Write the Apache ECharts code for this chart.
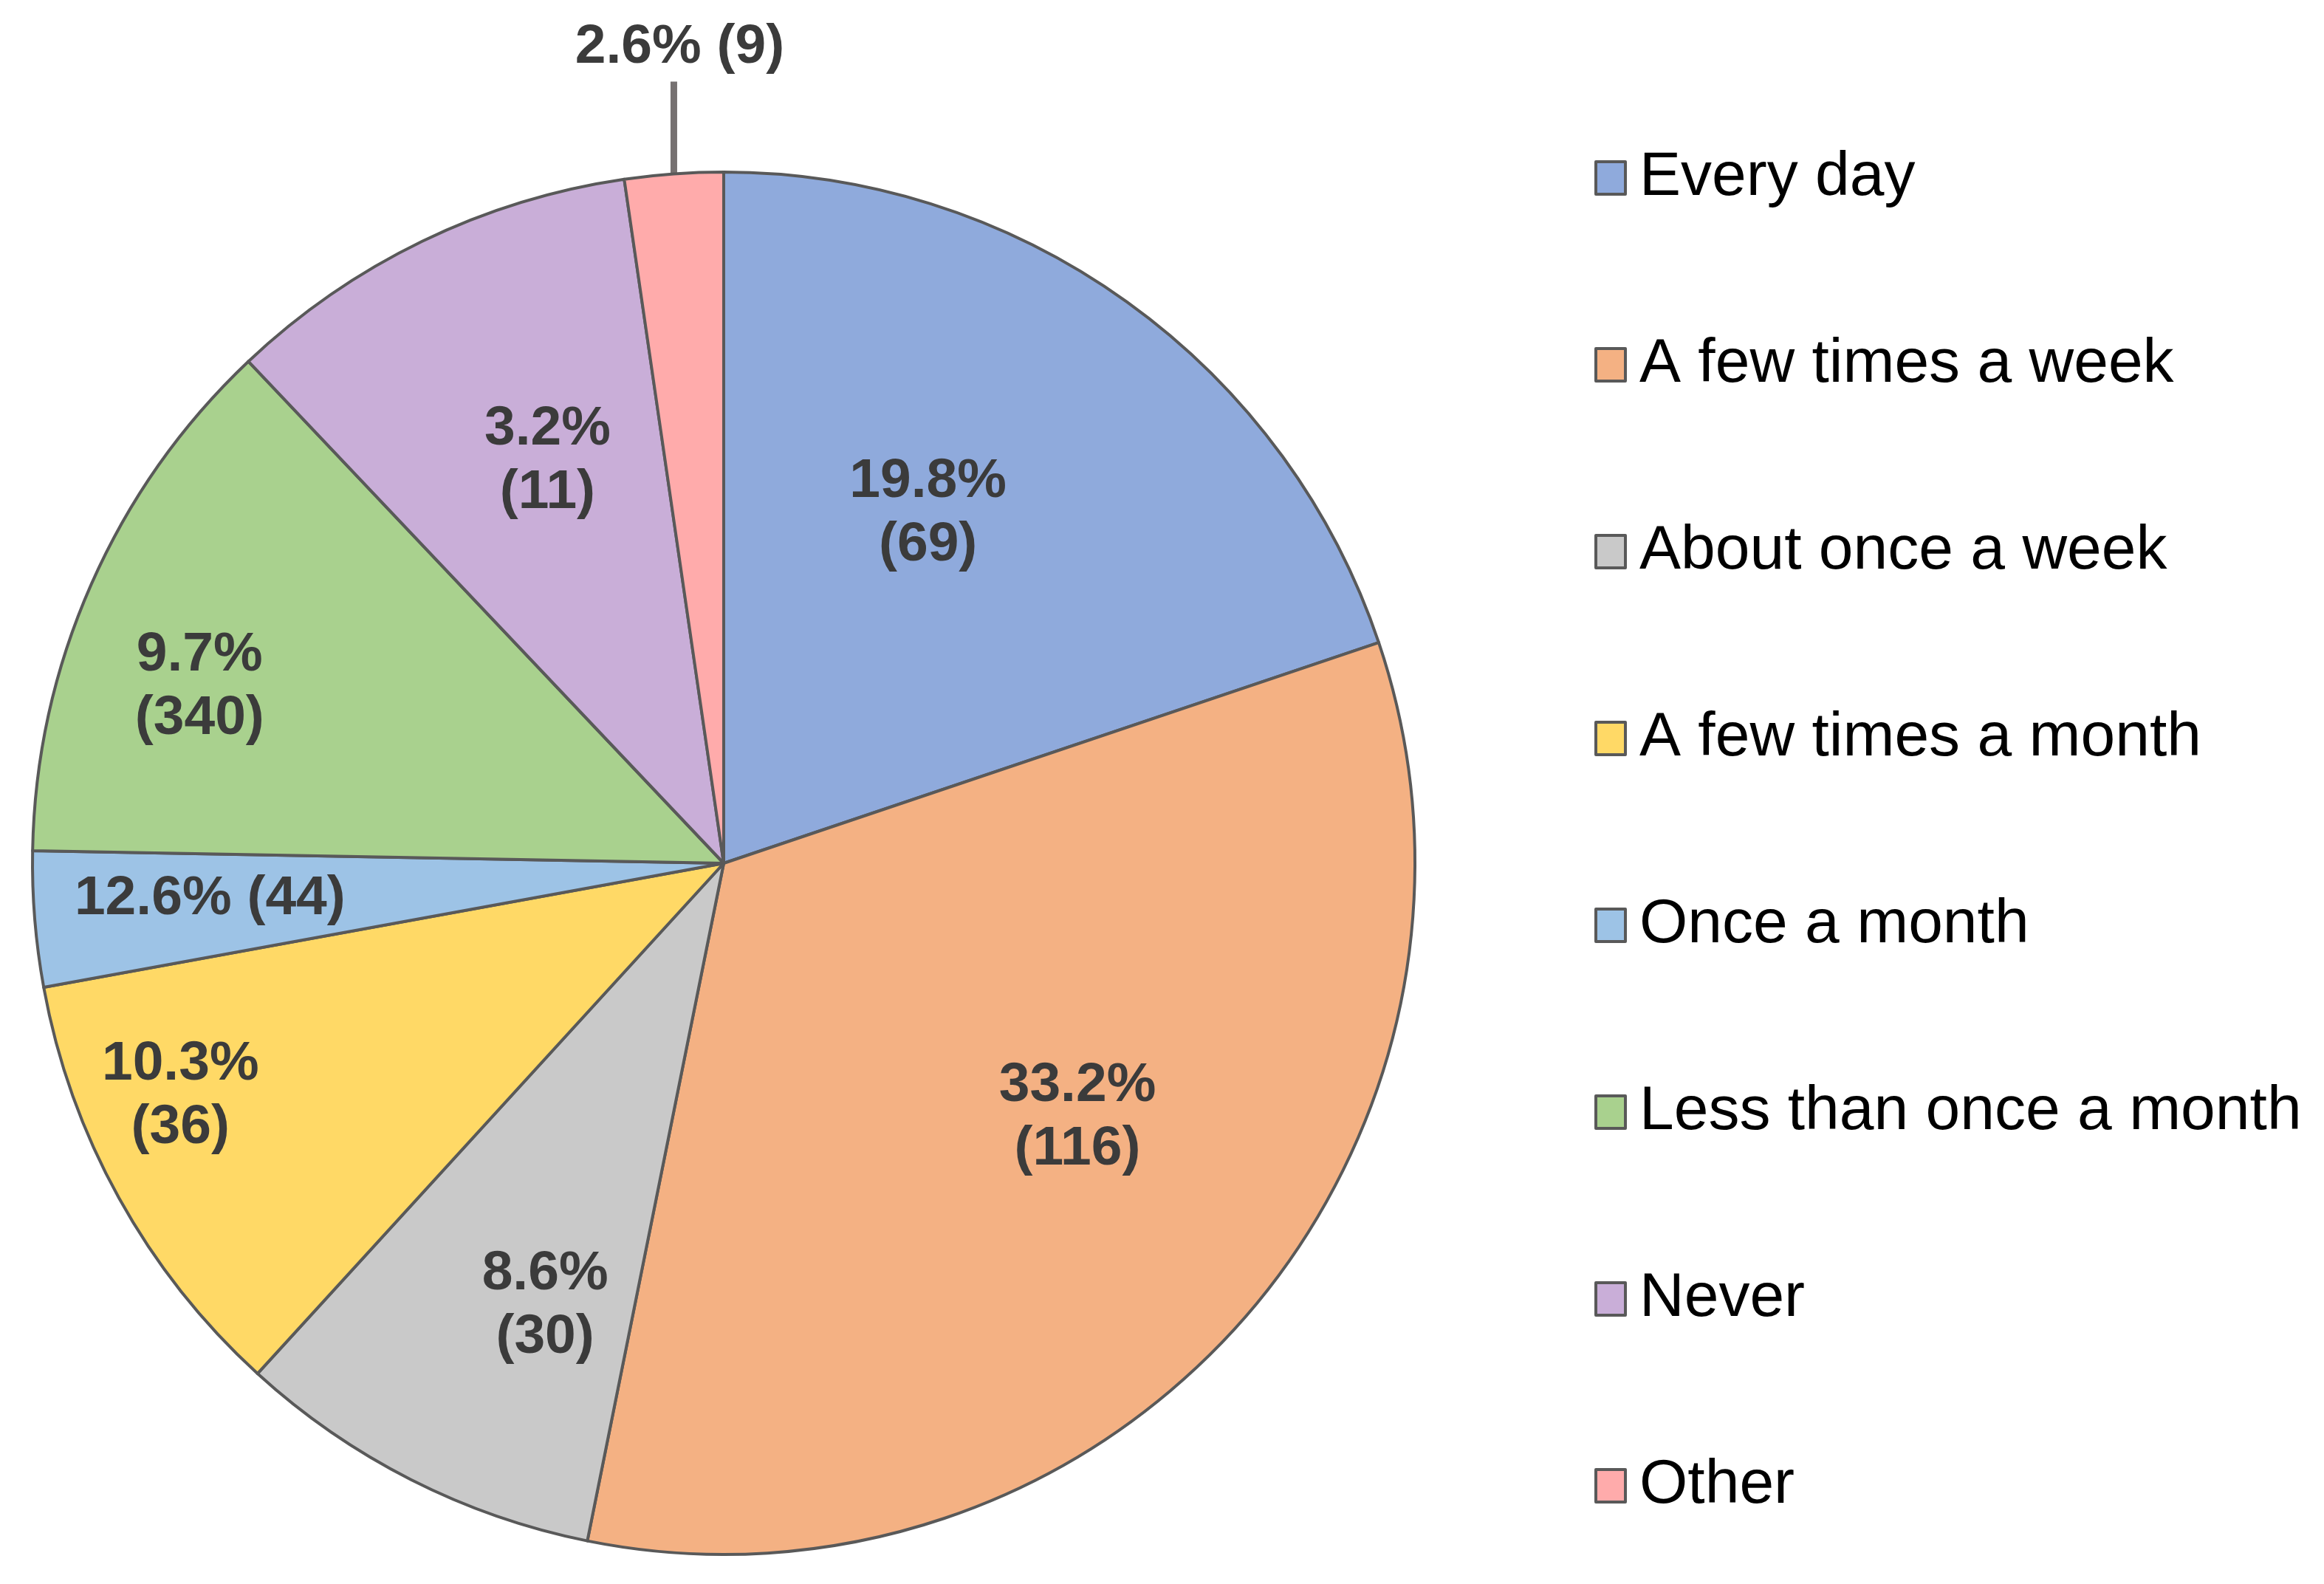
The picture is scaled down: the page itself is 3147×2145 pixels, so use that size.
<!DOCTYPE html>
<html><head><meta charset="utf-8">
<script src="https://cdn.jsdelivr.net/npm/echarts@6/dist/echarts.min.js"></script>
<style>html,body{margin:0;padding:0;background:#fff}#c{width:3147px;height:2145px}</style>
</head><body><div id="c"></div>
<script>
const categories = ['Every day','A few times a week','About once a week','A few times a month','Once a month','Less than once a month','Never','Other'];
const counts = [69, 116, 30, 36, 11, 44, 34, 8];
const labelTexts = ['19.8%\n(69)','33.2%\n(116)','8.6%\n(30)','10.3%\n(36)','12.6% (44)','9.7%\n(340)','3.2%\n(11)','2.6% (9)'];
const colors = ['#8FAADC','#F4B183','#C9C9C9','#FFD966','#9DC3E6','#A9D18E','#C9AED8','#FFABAB'];

// layout settings
const CX = 980, CY = 1169, R = 936;
const FONT = "'Liberation Sans', Arial, sans-serif";
const labelPlace = [
  {r:0.586, da:-5.4}, {r:0.63, da:-5.7}, {r:0.69, da:-4.9}, {r:0.855, da:5.8},
  {r:0.745, da:0.7}, {r:0.80, da:-5.2}, {r:0.635, da:2.2}
];

const total = counts.reduce((a,b)=>a+b,0);
const midAngles = []; let acc = 0;
counts.forEach(v => { midAngles.push((acc + v/2)/total*360); acc += v; });

const chart = echarts.init(document.getElementById('c'), null, {renderer:'canvas'});
const data = categories.map((n,i) => {
  const d = {name:n, value:counts[i], itemStyle:{color:colors[i]}};
  if (i === categories.length - 1) {
    d.label = {position:'outside'};
    d.labelLine = {show:true, lineStyle:{color:'#767171', width:9}};
  }
  return d;
});

chart.setOption({
  animation:false,
  backgroundColor:'#fff',
  legend:{
    orient:'vertical', left:2159, top:196, padding:0,
    itemWidth:40, itemHeight:44, itemGap:163, icon:'rect',
    itemStyle:{borderColor:'#595959', borderWidth:4},
    textStyle:{fontSize:84, color:'#000', fontFamily:FONT, lineHeight:90, padding:[0,0,0,14]},
    data:categories
  },
  series:[{
    type:'pie', center:[CX,CY], radius:[0,R], startAngle:90, clockwise:true,
    avoidLabelOverlap:false,
    itemStyle:{borderColor:'#595959', borderWidth:4},
    label:{show:true, position:'inside', fontSize:75, fontWeight:'bold', color:'#3b3b3b',
      fontFamily:FONT, lineHeight:86,
      formatter: p => labelTexts[p.dataIndex]},
    labelLine:{show:false},
    labelLayout: function(params){
      const i = params.dataIndex;
      if (i === categories.length - 1) {
        const a = midAngles[i]*Math.PI/180;
        const ex = CX + R*Math.sin(a), ey = CY - R*Math.cos(a);
        const top = ey - 125;
        return {x: ex + 8, y: top - 46, align:'center', verticalAlign:'middle',
          labelLinePoints:[[ex,ey],[ex,top],[ex,top]]};
      }
      const p = labelPlace[i];
      const a = (midAngles[i] + p.da)*Math.PI/180;
      return {x: CX + p.r*R*Math.sin(a), y: CY - p.r*R*Math.cos(a), align:'center', verticalAlign:'middle'};
    },
    data:data
  }]
});
</script></body></html>
